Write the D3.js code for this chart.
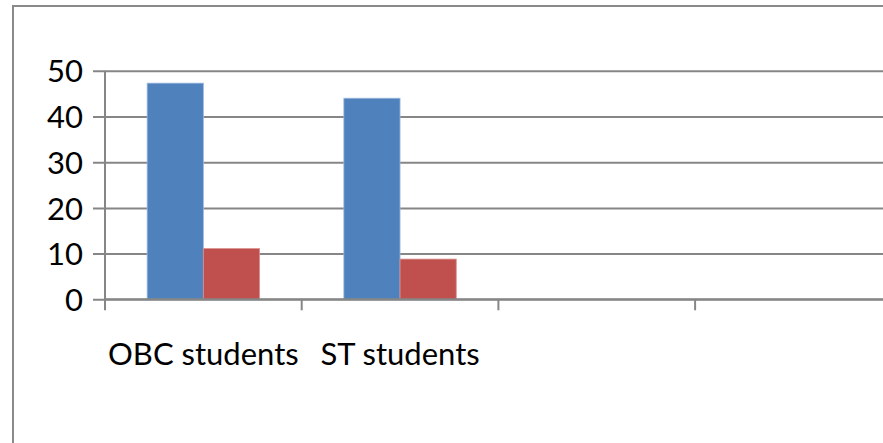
<!DOCTYPE html>
<html>
<head>
<meta charset="utf-8">
<script src="https://cdn.jsdelivr.net/npm/d3@7"></script>
<style>
  html, body { margin: 0; padding: 0; background: #fff; }
  svg { display: block; }
  text { font-family: Lato, "Open Sans", sans-serif; fill: #000; }
</style>
</head>
<body>
<svg id="chart" width="883" height="443"></svg>
<script>
// Category slots along the x axis (two are left empty)
const categories = ["OBC students", "ST students", "", ""];
// Series values per category
const seriesNames = ["Series1", "Series2"];
const series1 = [47.3, 44.0];
const series2 = [11.1, 8.8];
const seriesColors = ["#4F81BD", "#C0504D"];
const seriesEdges = ["#9DB9DD", "#DA8F8D"];
const yTicks = [0, 10, 20, 30, 40, 50];

const svg = d3.select("#chart");
const W = 883, H = 443;
const plotLeft = 105, plotTop = 70.8, plotBottom = 299.3;
const slot = 196.7;

// Outer chart frame (runs off the right and bottom edges)
svg.append("rect")
  .attr("x", 13).attr("y", 6)
  .attr("width", 900).attr("height", 460)
  .attr("fill", "#fff")
  .attr("stroke", "#8a8a8a").attr("stroke-width", 2);

const x = d3.scaleBand()
  .domain(d3.range(categories.length))
  .range([plotLeft, plotLeft + slot * categories.length])
  .paddingInner(0).paddingOuter(0);

const xs = d3.scaleBand()
  .domain(seriesNames)
  .range([0, x.bandwidth()])
  .paddingInner(0).paddingOuter(0.75);

const y = d3.scaleLinear().domain([0, 50]).range([plotBottom, plotTop]);

// Horizontal gridlines with outside tick marks
const yAxis = d3.axisLeft(y)
  .tickValues(yTicks)
  .tickSize(-(W - plotLeft + 20))
  .tickSizeOuter(0)
  .tickPadding(22)
  .tickFormat(d3.format("d"));

const gy = svg.append("g")
  .attr("transform", `translate(${plotLeft},0)`)
  .call(yAxis);
gy.select(".domain").remove();
gy.selectAll(".tick line")
  .attr("x1", -12)
  .attr("stroke", "#868686").attr("stroke-width", 2);
gy.selectAll(".tick text")
  .attr("font-size", 31)
  .attr("font-family", "Lato, 'Open Sans', sans-serif")
  .attr("fill", "#000")
  .attr("dy", "0.36em");

// Bars
const data = categories.map((c, i) => ({
  i,
  values: [series1[i], series2[i]]
})).filter(d => d.values.every(v => v !== undefined));

const groups = svg.append("g").selectAll("g")
  .data(data)
  .join("g")
  .attr("transform", d => `translate(${x(d.i)},0)`);

groups.selectAll("rect")
  .data(d => d.values.map((v, k) => ({ name: seriesNames[k], v, k })))
  .join("rect")
  .attr("x", d => xs(d.name))
  .attr("y", d => y(d.v))
  .attr("width", xs.bandwidth())
  .attr("height", d => y(0) - y(d.v))
  .attr("fill", d => seriesColors[d.k])
  .attr("stroke", d => seriesEdges[d.k])
  .attr("stroke-width", 0.8);

// Vertical value axis line
svg.append("line")
  .attr("x1", plotLeft).attr("x2", plotLeft)
  .attr("y1", plotTop).attr("y2", plotBottom)
  .attr("stroke", "#868686").attr("stroke-width", 2);

// Category axis with tick marks between slots
const xAxis = d3.axisBottom(x)
  .tickFormat(i => categories[i])
  .tickSize(0)
  .tickPadding(44);

const gx = svg.append("g")
  .attr("transform", `translate(0,${plotBottom})`)
  .call(xAxis);
gx.select(".domain").remove();
gx.selectAll(".tick text")
  .attr("font-size", 31)
  .attr("font-family", "Lato, 'Open Sans', sans-serif")
  .attr("fill", "#000");

svg.append("line")
  .attr("x1", plotLeft).attr("x2", W + 10)
  .attr("y1", plotBottom).attr("y2", plotBottom)
  .attr("stroke", "#868686").attr("stroke-width", 2);

svg.append("g").selectAll("line")
  .data(d3.range(categories.length + 1))
  .join("line")
  .attr("x1", i => plotLeft + slot * i).attr("x2", i => plotLeft + slot * i)
  .attr("y1", plotBottom).attr("y2", plotBottom + 11)
  .attr("stroke", "#868686").attr("stroke-width", 2);
</script>
</body>
</html>
